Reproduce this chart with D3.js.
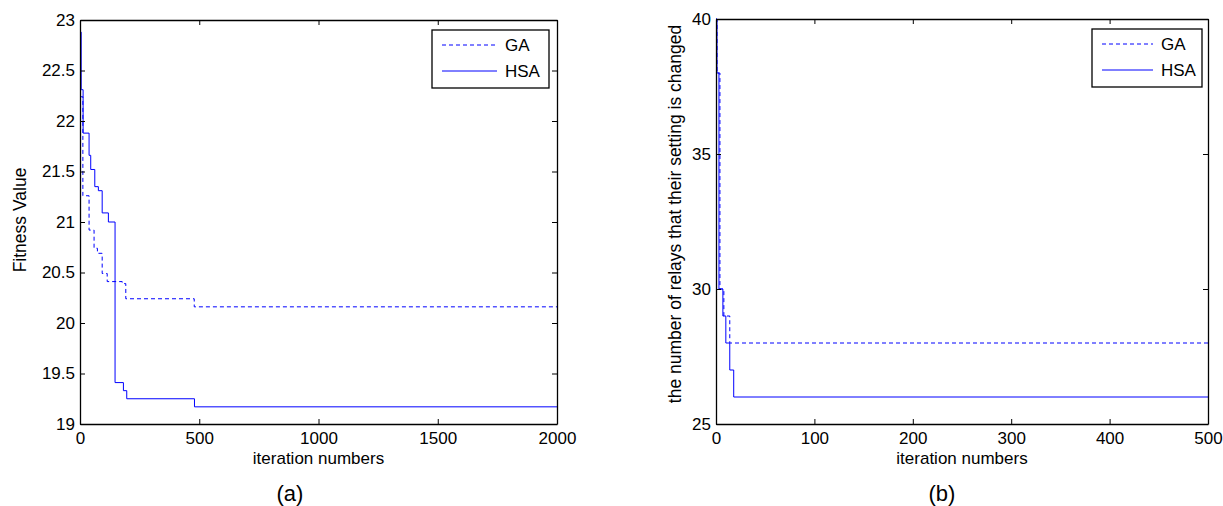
<!DOCTYPE html>
<html>
<head>
<meta charset="utf-8">
<script src="https://cdn.jsdelivr.net/npm/d3@7"></script>
<style>
  body { margin: 0; background: #fff; }
  text { font-family: "Liberation Sans", Arial, sans-serif; }
</style>
</head>
<body>
<div class="canvas"></div>
<script>
// Panel (a) data: iteration where each step starts, fitness value
const gaIterA = [0, 12, 38, 59, 73, 93, 114, 177, 192, 479, 2000];
const gaValA = [22.24, 21.26, 20.92, 20.74, 20.69, 20.49, 20.41, 20.39, 20.24, 20.16, 20.16];
const hsaIterA = [0, 5, 13, 38, 45, 62, 77, 93, 119, 147, 182, 196, 480, 2000];
const hsaValA = [22.88, 22.31, 21.88, 21.66, 21.52, 21.35, 21.31, 21.09, 21.0, 19.41, 19.33, 19.25, 19.17, 19.17];
const xTicksA = [0, 500, 1000, 1500, 2000];
const yTicksA = [19, 19.5, 20, 20.5, 21, 21.5, 22, 22.5, 23];

// Panel (b) data: number of relays with changed setting
const gaIterB = [0, 1, 4, 8, 14, 500];
const gaValB = [40, 38, 30, 29, 28, 28];
const hsaIterB = [0, 1, 3, 7, 10, 14, 18, 500];
const hsaValB = [40, 38, 30, 29, 28, 27, 26, 26];
const xTicksB = [0, 100, 200, 300, 400, 500];
const yTicksB = [25, 30, 35, 40];

const seriesNames = ['GA', 'HSA'];

const svg = d3
  .select('.canvas')
  .append('svg')
  .attr('width', 1223)
  .attr('height', 506);

const blue = '#0000ff';
const dash = '4,3';

const drawPanel = (p) => {
  const { left, right, top, bottom } = p.box;

  //Scales
  const x = d3.scaleLinear().domain(p.xDomain).range([left, right]);
  const y = d3.scaleLinear().domain(p.yDomain).range([bottom, top]);

  const g = svg.append('g');

  //Lines
  const line = d3
    .line()
    .x((d) => x(d[0]))
    .y((d) => y(d[1]))
    .curve(d3.curveStepAfter);

  g.append('path')
    .datum(d3.zip(p.gaIter, p.gaVal))
    .attr('fill', 'none')
    .attr('stroke', blue)
    .attr('stroke-width', 1)
    .attr('stroke-dasharray', dash)
    .attr('d', line);

  g.append('path')
    .datum(d3.zip(p.hsaIter, p.hsaVal))
    .attr('fill', 'none')
    .attr('stroke', blue)
    .attr('stroke-width', 1)
    .attr('d', line);

  //Axes (ticks inside, mirrored on top and right)
  const styleAxis = (sel) => {
    sel.selectAll('path').attr('stroke', '#000').attr('stroke-width', 1.3);
    sel.selectAll('line').attr('stroke', '#000');
    sel.selectAll('text').attr('font-size', 17).attr('fill', '#000');
  };

  g.append('g')
    .attr('transform', `translate(0,${bottom})`)
    .call(d3.axisBottom(x).tickValues(p.xTicks).tickSize(-5).tickSizeOuter(0).tickPadding(8).tickFormat(d3.format('d')))
    .call(styleAxis);

  g.append('g')
    .attr('transform', `translate(0,${top})`)
    .call(d3.axisTop(x).tickValues(p.xTicks).tickSize(-5).tickSizeOuter(0).tickFormat(''))
    .call(styleAxis);

  g.append('g')
    .attr('transform', `translate(${left},0)`)
    .call(d3.axisLeft(y).tickValues(p.yTicks).tickSize(-5).tickSizeOuter(0).tickPadding(5).tickFormat((d) => String(d)))
    .call(styleAxis);

  g.append('g')
    .attr('transform', `translate(${right},0)`)
    .call(d3.axisRight(y).tickValues(p.yTicks).tickSize(-5).tickSizeOuter(0).tickFormat(''))
    .call(styleAxis);

  g.selectAll('.domain').attr('fill', 'none');

  //Axis labels
  g.append('text')
    .attr('x', (left + right) / 2)
    .attr('y', 464)
    .attr('text-anchor', 'middle')
    .attr('font-size', 17)
    .text('iteration numbers');

  g.append('text')
    .attr('transform', `translate(${p.yLabelX},${p.yLabelY}) rotate(-90)`)
    .attr('text-anchor', 'middle')
    .attr('font-size', p.yLabelSize)
    .text(p.yLabel);

  g.append('text')
    .attr('x', p.captionX)
    .attr('y', 501)
    .attr('text-anchor', 'middle')
    .attr('font-family', '"Liberation Serif", "Times New Roman", serif')
    .attr('font-size', 22)
    .text(p.caption);

  //Legend
  const lg = g.append('g').attr('transform', `translate(${p.legend.x},${p.legend.y})`);
  lg.append('rect')
    .attr('width', p.legend.w)
    .attr('height', 58)
    .attr('fill', '#fff')
    .attr('stroke', '#000')
    .attr('stroke-width', 1.3);

  seriesNames.forEach((name, i) => {
    const ly = 15 + i * 26;
    lg.append('line')
      .attr('x1', 10)
      .attr('x2', 10 + p.legend.lineLen)
      .attr('y1', ly)
      .attr('y2', ly)
      .attr('stroke', blue)
      .attr('stroke-dasharray', i === 0 ? dash : null);
    lg.append('text')
      .attr('x', 18 + p.legend.lineLen)
      .attr('y', ly + 6)
      .attr('font-size', 17)
      .text(name);
  });
};

drawPanel({
  box: { left: 80, right: 557, top: 20, bottom: 424 },
  xDomain: [0, 2000],
  yDomain: [19, 23],
  xTicks: xTicksA,
  yTicks: yTicksA,
  gaIter: gaIterA,
  gaVal: gaValA,
  hsaIter: hsaIterA,
  hsaVal: hsaValA,
  yLabel: 'Fitness Value',
  yLabelX: 26,
  yLabelY: 220,
  yLabelSize: 17.5,
  caption: '(a)',
  captionX: 290,
  legend: { x: 432, y: 30, w: 117, lineLen: 55 }
});

drawPanel({
  box: { left: 716, right: 1208, top: 19, bottom: 424 },
  xDomain: [0, 500],
  yDomain: [25, 40],
  xTicks: xTicksB,
  yTicks: yTicksB,
  gaIter: gaIterB,
  gaVal: gaValB,
  hsaIter: hsaIterB,
  hsaVal: hsaValB,
  yLabel: 'the number of relays that their setting is changed',
  yLabelX: 681,
  yLabelY: 214,
  yLabelSize: 17.5,
  caption: '(b)',
  captionX: 942,
  legend: { x: 1092, y: 29, w: 110, lineLen: 51 }
});
</script>
</body>
</html>
